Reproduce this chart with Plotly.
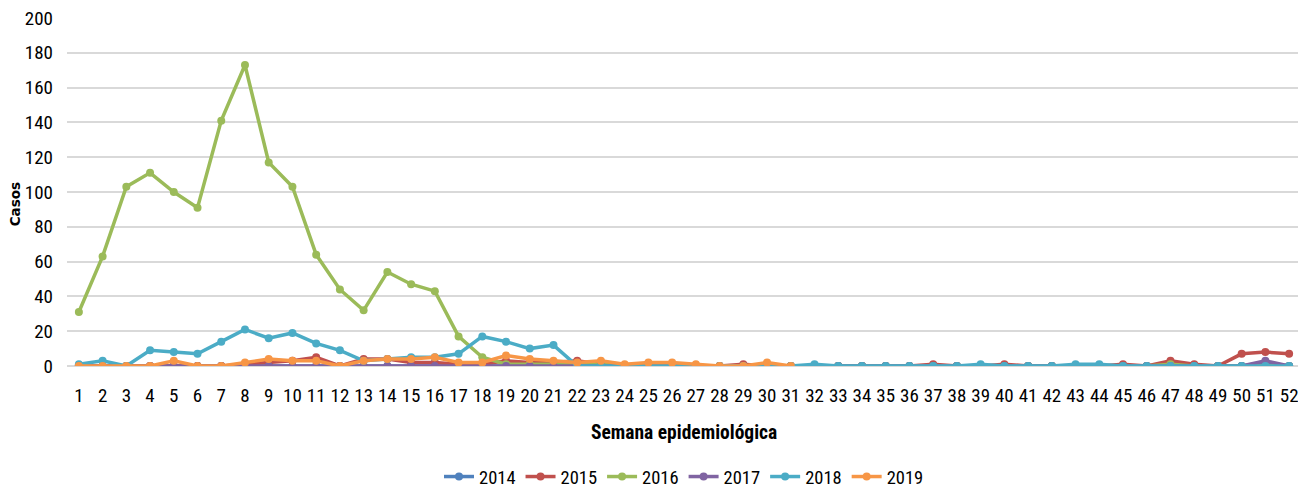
import plotly.graph_objects as go

weeks = list(range(1, 53))

s2014 = [0]*52
s2014[50] = 2

s2015 = [0, 0, 0, 0, 0, 0, 0, 1, 2, 3, 5, 0, 4, 4, 2, 2, 1, 1, 3, 2,
         2, 3, 1, 0, 0, 0, 0, 0, 1, 0, 0, 0, 0, 0, 0, 0, 1, 0, 0, 1,
         0, 0, 0, 0, 1, 0, 3, 1, 0, 7, 8, 7]

s2016 = [31, 63, 103, 111, 100, 91, 141, 173, 117, 103, 64, 44, 32, 54, 47, 43, 17, 5, 1, 1,
         1, 1, 1, 0, 0, 0, 0, 0, 0, 0, 0, 0, 0, 0, 0, 0, 0, 0, 0, 0,
         0, 0, 0, 0, 0, 0, 1, 0, 0, 0, 0, 0]

s2017 = [0]*52
s2017[50] = 3

s2018 = [1, 3, 0, 9, 8, 7, 14, 21, 16, 19, 13, 9, 3, 4, 5, 5, 7, 17, 14, 10,
         12, 0, 0, 0, 0, 0, 0, 0, 0, 0, 0, 1, 0, 0, 0, 0, 0, 0, 1, 0,
         0, 0, 1, 1, 0, 0, 0, 0, 0, 0, 0, 0]

s2019 = [0, 0, 0, 0, 3, 0, 0, 2, 4, 3, 3, 0, 3, 4, 4, 5, 2, 2, 6, 4,
         3, 2, 3, 1, 2, 2, 1, 0, 0, 2, 0]

series = [
    ("2014", s2014, "#4F81BD"),
    ("2015", s2015, "#C0504D"),
    ("2016", s2016, "#9BBB59"),
    ("2017", s2017, "#8064A2"),
    ("2018", s2018, "#4BACC6"),
    ("2019", s2019, "#F79646"),
]

FONT = "Roboto Condensed, sans-serif"

fig = go.Figure()
for name, vals, col in series:
    fig.add_trace(go.Scatter(
        x=weeks[:len(vals)], y=vals, name=name, mode="lines+markers",
        line=dict(color=col, width=3.5),
        marker=dict(color=col, size=8, symbol="circle"),
    ))

# page body has an 8px default margin, so the figure is sized/offset to compensate
fig.update_layout(
    width=1298, height=485,
    margin=dict(l=59, r=5, t=10, b=127, autoexpand=False),
    paper_bgcolor="white", plot_bgcolor="white",
    font=dict(family=FONT, size=19, color="#000000"),
    showlegend=True,
    legend=dict(orientation="h", x=0.5, xanchor="center", y=-0.319, yanchor="middle",
                font=dict(family=FONT, size=18.5, color="#000000"), itemwidth=30,
                traceorder="normal"),
    xaxis=dict(
        range=[0.5, 52.5], tickmode="array", tickvals=weeks, ticktext=[str(w) for w in weeks],
        showgrid=False, zeroline=False, showline=False, ticks="", automargin=False,
        tickfont=dict(family=FONT, size=19, color="#000000"), ticklabelstandoff=16,
        ticklabeloverflow="allow",
    ),
    yaxis=dict(
        range=[0, 200], dtick=20, showgrid=True, gridcolor="#D9D9D9", gridwidth=1.5,
        zeroline=True, zerolinecolor="#D9D9D9", zerolinewidth=1.5, showline=False, ticks="",
        automargin=False, tickfont=dict(family=FONT, size=19, color="#000000"), ticklabelstandoff=13,
        ticklabeloverflow="allow",
    ),
    annotations=[
        dict(text="<b>Semana epidemiológica</b>", xref="paper", yref="paper", x=0.5, y=-0.19,
             xanchor="center", yanchor="middle", showarrow=False,
             font=dict(family=FONT, size=19.5, color="#000000")),
        dict(text="<b>Casos</b>", xref="paper", yref="paper", x=-0.042, y=0.465,
             xanchor="center", yanchor="middle", showarrow=False, textangle=-90,
             font=dict(family="DejaVu Sans, sans-serif", size=13.5, color="#000000")),
    ],
)

fig.write_html("out.html")
